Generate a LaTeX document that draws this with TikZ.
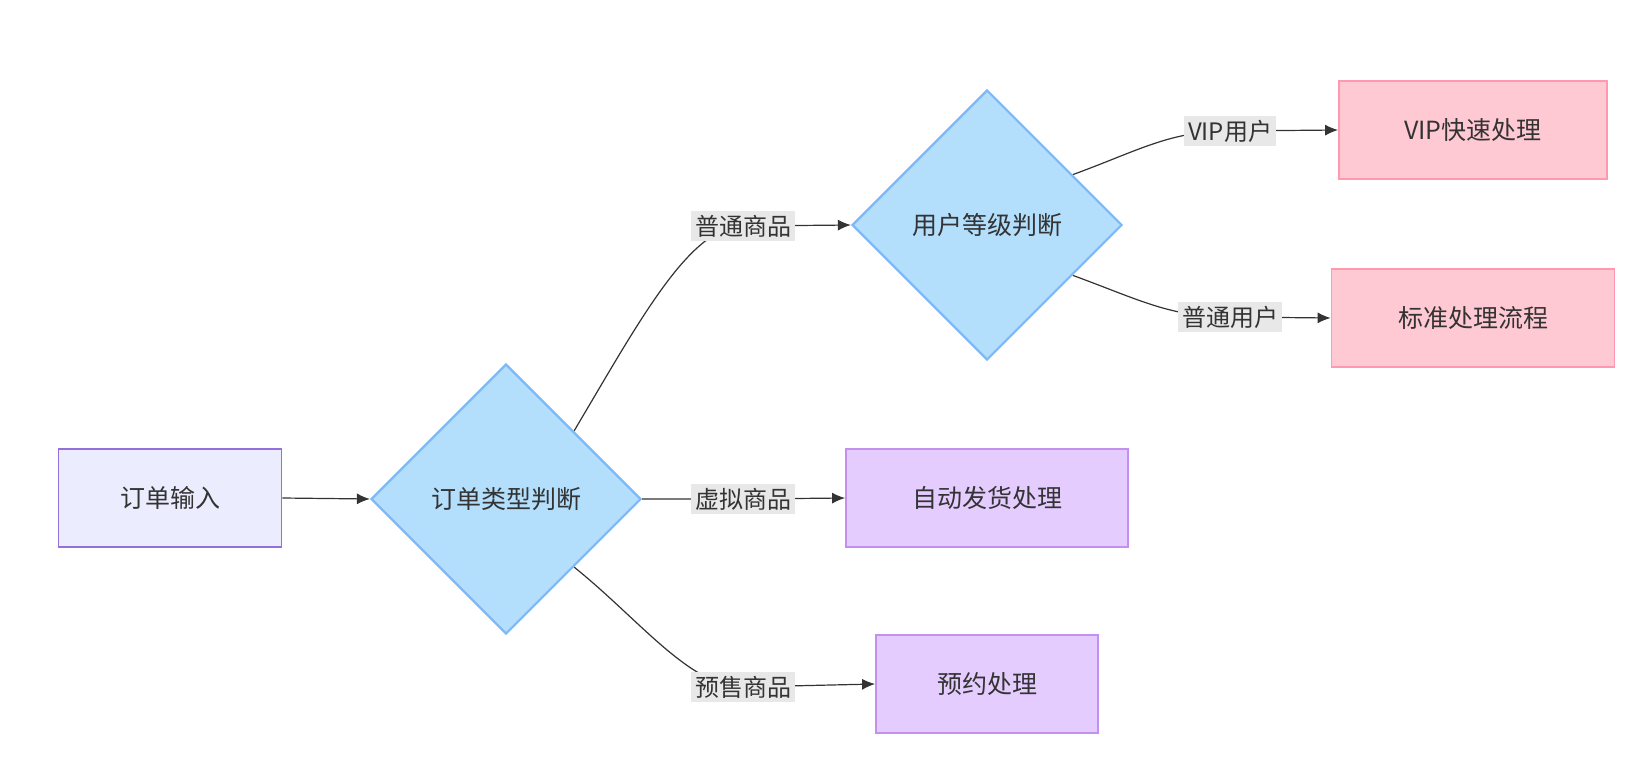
\documentclass[tikz,border=0pt]{standalone}
\usepackage{fontspec}
\setmainfont{Noto Sans CJK SC}
\usetikzlibrary{shapes.geometric,arrows.meta,backgrounds,calc}
\definecolor{c1f}{HTML}{ECECFF}\definecolor{c1s}{HTML}{9370DB}
\definecolor{df}{HTML}{B3DFFD}\definecolor{ds}{HTML}{7FB8F5}
\definecolor{pf}{HTML}{FFC9D4}\definecolor{ps}{HTML}{FF99B0}
\definecolor{vf}{HTML}{E5CCFF}\definecolor{vs}{HTML}{C38FF0}
\definecolor{lb}{HTML}{E8E8E8}\definecolor{tx}{HTML}{333333}
\tikzset{
 box/.style={draw,line width=1.8pt,minimum width=#1,minimum height=98pt,font=\fontsize{25}{28}\selectfont,text=tx},
 dia/.style={diamond,draw=ds,fill=df,line width=2.2pt,minimum width=270pt,minimum height=270pt,aspect=1,inner sep=0pt,font=\fontsize{25}{28}\selectfont,text=tx},
 lab/.style={fill=lb,inner sep=4pt,font=\fontsize{24}{27}\selectfont,text=tx},
 arr/.style={draw=tx,line width=1.2pt,-{Latex[length=13pt,width=11pt]}}
}
\begin{document}
\begin{tikzpicture}[x=1pt,y=-1pt]
\useasboundingbox (0,0) rectangle (1646,784);
\node[box=223pt,fill=c1f,draw=c1s] (in) at (170,498) {订单输入};
\node[dia] (d1) at (506,499) {订单类型判断};
\node[dia] (d2) at (987,225) {用户等级判断};
\node[box=268pt,fill=pf,draw=ps] (vip) at (1473,130) {VIP快速处理};
\node[box=283pt,fill=pf,draw=ps] (std) at (1473,318) {标准处理流程};
\node[box=282pt,fill=vf,draw=vs] (auto) at (987,498) {自动发货处理};
\node[box=222pt,fill=vf,draw=vs] (pre) at (987,684) {预约处理};
\node[lab] (l1) at (743,226) {普通商品};
\node[lab] (l2) at (743,499) {虚拟商品};
\node[lab] (l3) at (743,687) {预售商品};
\node[lab] (l4) at (1230,131) {VIP用户};
\node[lab] (l5) at (1230,317) {普通用户};
\coordinate (a1) at ($(d2.east)!0.37!(d2.north)$);
\coordinate (a2) at ($(d2.east)!0.37!(d2.south)$);
\begin{scope}[on background layer]
\draw[arr] (in.east) -- (d1.west);
\draw[arr] (d1.north east) .. controls (640,320) and (690,226) .. (l1.center) -- (d2.west);
\draw[arr] (d1.east) -- (l2.center) -- (auto.west);
\draw[arr] (d1.south east) .. controls (640,620) and (690,687) .. (l3.center) -- (pre.west);
\draw[arr] (a1) .. controls (1140,150) and (1170,131) .. (l4.center) -- (vip.west);
\draw[arr] (a2) .. controls (1140,300) and (1170,317) .. (l5.center) -- (std.west);
\end{scope}
\end{tikzpicture}
\end{document}
